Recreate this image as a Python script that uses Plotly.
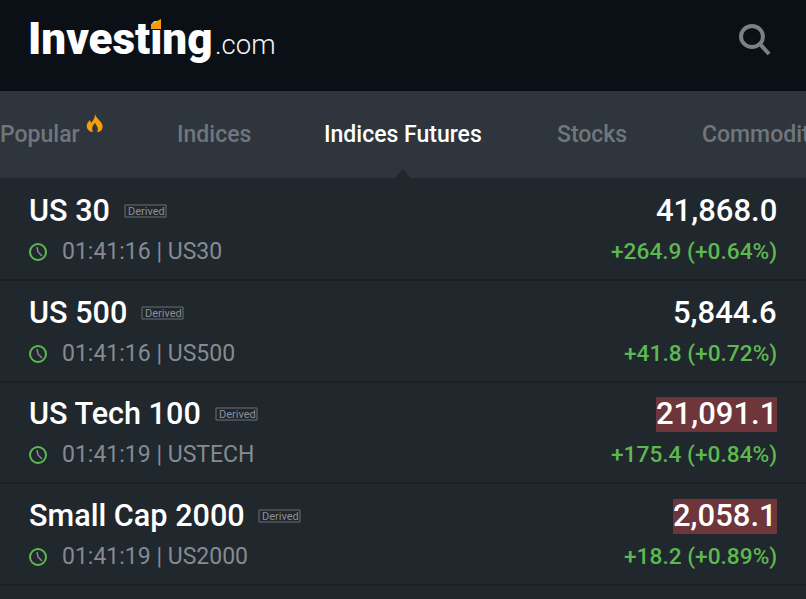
import plotly.graph_objects as go

# screen content
logo_text = "Investing"
tab_labels = ["Popular", "Indices", "Indices Futures", "Stocks", "Commodities"]
tab_centers = [40, 214, 403, 592, 771]
names = ["US 30", "US 500", "US Tech 100", "Small Cap 2000"]
times = ["01:41:16", "01:41:16", "01:41:19", "01:41:19"]
codes = ["US30", "US500", "USTECH", "US2000"]
prices = ["41,868.0", "5,844.6", "21,091.1", "2,058.1"]
changes = ["+264.9 (+0.64%)", "+41.8 (+0.72%)", "+175.4 (+0.84%)", "+18.2 (+0.89%)"]
flashed = [False, False, True, True]
badge_x = [125, 142, 216, 259]
flash_left = [656, 673, 656, 673]
row_tops = [179, 281, 382, 484]

HEADER = "#0b1016"
TABBAR = "#2e353c"
BODY = "#20272d"
LINE = "#1a2025"
GREY = "#858b91"
TAB_GREY = "#70767d"
GREEN = "#5cb84f"
FLASH = "#6e353a"
ORANGE = "#f59e0b"
FONT = "Roboto"

shapes = []
annotations = []


def rect(x0, y0, x1, y1, color):
    shapes.append(dict(type="rect", x0=x0, y0=y0, x1=x1, y1=y1, fillcolor=color, line_width=0, layer="below"))


def label(x, y, s, size, color, anchor="left", family=FONT, weight=400):
    annotations.append(dict(x=x, y=y, text=s, showarrow=False, xanchor=anchor, yanchor="middle",
                            borderpad=0, borderwidth=0,
                            font=dict(family=family, size=size, color=color, weight=weight)))


rect(0, 0, 806, 91, HEADER)
rect(0, 91, 806, 178, TABBAR)
rect(0, 178, 806, 599, BODY)
shapes.append(dict(type="path", path="M 395 178 L 403 169 L 411 178 Z", fillcolor=BODY, line_width=0))

# logo, the orange dot has to sit on top of the text so the word is a trace
label(215, 44, ".com", 27.5, "#f2f3f4", weight=300)
shapes.append(dict(type="path", path="M 151 24 L 161 19 L 161 29 L 151 29 Z", fillcolor=ORANGE, line_width=0))
logo = go.Scatter(x=[28], y=[43], mode="text", text=[logo_text], textposition="middle right",
                  textfont=dict(family=FONT, size=44, color="white", weight=900), hoverinfo="skip")

# search icon
shapes.append(dict(type="circle", x0=741, y0=26, x1=763, y1=47, line=dict(color="#7d8084", width=4)))
shapes.append(dict(type="line", x0=760, y0=44, x1=769, y1=54, line=dict(color="#7d8084", width=4)))

# tabs
for i, t in enumerate(tab_labels):
    active = i == 2
    label(tab_centers[i], 134, t, 23, "white" if active else TAB_GREY, anchor="center", weight=500)
shapes.append(dict(type="path",
                   path="M 95 114 C 96 118 100 120 102 124 C 104 128 101 132 98 132 L 92 132 "
                        "C 88 131 86 128 87 124 C 88 122 89 121 90 120 L 91 123 C 93 121 95 118 95 114 Z",
                   fillcolor=ORANGE, line_width=0))
shapes.append(dict(type="path", path="M 95 123 C 93 125 91 128 93 132 L 97 132 C 99 129 97 126 95 123 Z",
                   fillcolor=TABBAR, line_width=0))

# rows
for i in range(len(names)):
    top = row_tops[i]
    label(29, top + 31, names[i], 30.6, "white", weight=500)
    label(badge_x[i] + 3, top + 32, "Derived", 11, "#8b9096")
    shapes.append(dict(type="rect", x0=badge_x[i], y0=top + 26, x1=badge_x[i] + 41, y1=top + 38,
                       line=dict(color="#6b7076", width=1), fillcolor="rgba(0,0,0,0)"))
    # clock
    shapes.append(dict(type="circle", x0=30, y0=top + 65, x1=46, y1=top + 81, line=dict(color=GREEN, width=2)))
    shapes.append(dict(type="path", path=f"M 37 {top + 68} L 38 {top + 73} L 42 {top + 77}",
                       line=dict(color=GREY, width=1.5)))
    label(62, top + 72, f"{times[i]} | {codes[i]}", 23, GREY)
    if flashed[i]:
        rect(flash_left[i], top + 15, 777, top + 50, FLASH)
    label(777, top + 31, prices[i], 31, "white", anchor="right", weight=500)
    label(777, top + 72, changes[i], 22.7, GREEN, anchor="right", weight=500)
    rect(0, top + 100, 806, top + 102, LINE)

fig = go.Figure([logo])
fig.update_layout(
    width=806, height=599, margin=dict(l=0, r=0, t=0, b=0),
    paper_bgcolor=BODY, plot_bgcolor=BODY, showlegend=False,
    xaxis=dict(range=[0, 806], visible=False, fixedrange=True),
    yaxis=dict(range=[599, 0], visible=False, fixedrange=True),
    shapes=shapes, annotations=annotations,
)
fig.write_html("out.html", config={"displayModeBar": False},
               post_script="document.body.style.margin='0';document.body.style.overflow='hidden';")
